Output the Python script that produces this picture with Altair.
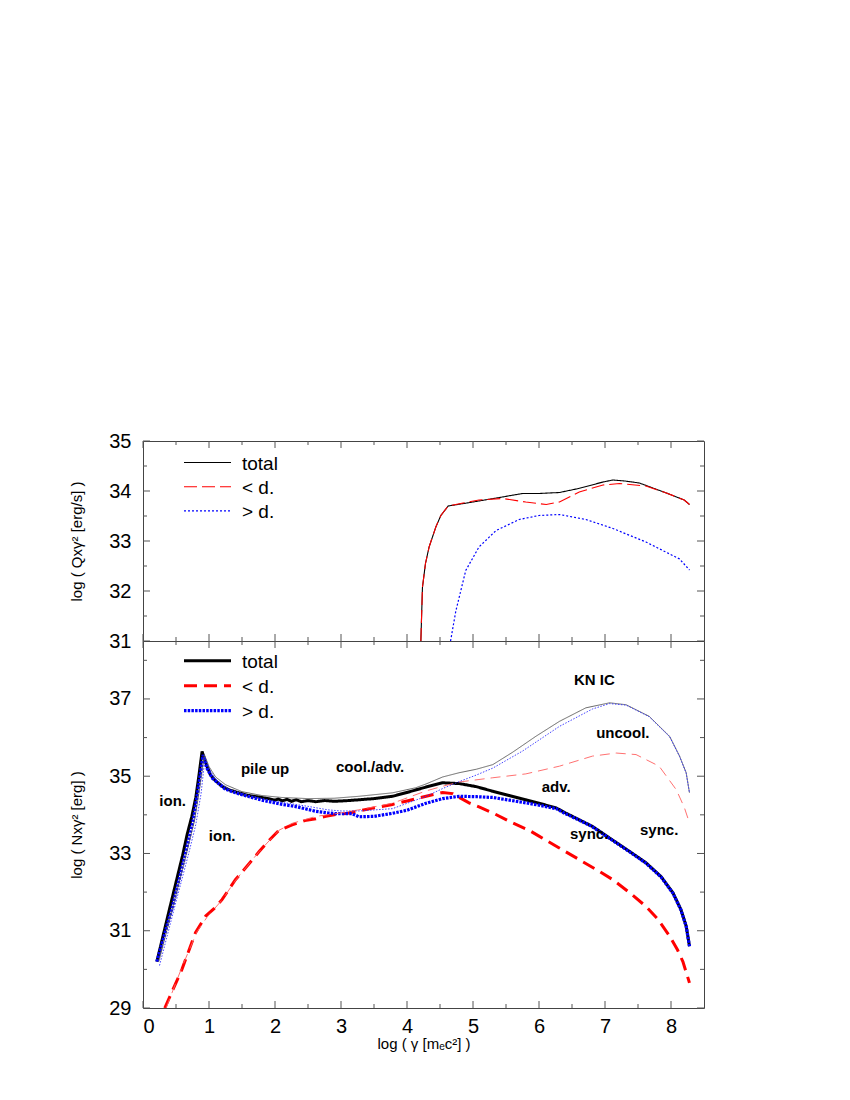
import altair as alt
import pandas as pd

# ---------------- upper panel: log(Q x gamma^2) ----------------
q_total_x = [4.21, 4.234, 4.28, 4.335, 4.437, 4.513, 4.624, 5.0, 5.4, 5.75, 6.0, 6.31, 6.6, 6.97, 7.12, 7.3, 7.52, 7.93, 8.2, 8.28]
q_total_y = [31.0, 32.07, 32.55, 32.88, 33.28, 33.51, 33.70, 33.78, 33.87, 33.95, 33.95, 33.97, 34.05, 34.18, 34.22, 34.20, 34.16, 33.96, 33.82, 33.73]
q_low_x = [4.21, 4.234, 4.28, 4.335, 4.437, 4.513, 4.624, 4.85, 5.09, 5.45, 5.80, 6.11, 6.31, 6.61, 6.97, 7.22, 7.62, 7.93, 8.2, 8.28]
q_low_y = [31.0, 32.07, 32.55, 32.88, 33.28, 33.51, 33.70, 33.76, 33.82, 33.85, 33.78, 33.73, 33.78, 33.98, 34.12, 34.15, 34.10, 33.96, 33.82, 33.73]
q_high_x = [4.66, 4.74, 4.89, 5.09, 5.35, 5.70, 6.0, 6.31, 6.71, 7.12, 7.62, 8.13, 8.28]
q_high_y = [31.0, 31.6, 32.41, 32.88, 33.21, 33.43, 33.51, 33.53, 33.43, 33.25, 32.98, 32.64, 32.42]

# ---------------- lower panel: log(N x gamma^2) ----------------
n_total_x = [0.21, 0.40, 0.60, 0.67, 0.74, 0.80, 0.85, 0.895, 0.95, 1.02, 1.10, 1.20, 1.30, 1.45, 1.60, 1.76, 1.90, 2.00, 2.05, 2.11,
             2.18, 2.25, 2.32, 2.40, 2.50, 2.62, 2.75, 2.90, 3.12, 3.27, 3.50, 3.78, 4.00, 4.29, 4.54, 4.79, 5.05, 5.30, 5.55, 5.80,
             6.00, 6.26, 6.40, 6.60, 6.81, 7.00, 7.20, 7.40, 7.62, 7.85, 8.03, 8.15, 8.23, 8.28]
n_total_y = [30.20, 31.55, 32.95, 33.50, 33.96, 34.45, 35.05, 35.64, 35.35, 35.04, 34.88, 34.74, 34.65, 34.57, 34.50, 34.46, 34.42, 34.38, 34.41, 34.36,
             34.40, 34.35, 34.39, 34.34, 34.37, 34.34, 34.37, 34.35, 34.37, 34.39, 34.42, 34.48, 34.58, 34.72, 34.83, 34.81, 34.73, 34.61, 34.50, 34.39,
             34.30, 34.18, 34.05, 33.88, 33.70, 33.48, 33.25, 33.02, 32.76, 32.40, 31.98, 31.55, 31.12, 30.60]
n_low_x = [0.33, 0.59, 0.795, 0.95, 1.08, 1.20, 1.40, 1.60, 1.76, 1.90, 2.06, 2.26, 2.45, 2.62, 2.77, 2.92, 3.10, 3.27, 3.50, 3.78,
           4.00, 4.29, 4.54, 4.69, 4.94, 5.10, 5.30, 5.60, 5.85, 6.00, 6.30, 6.61, 6.90, 7.12, 7.40, 7.62, 7.80, 7.98, 8.10, 8.18, 8.28]
n_low_y = [29.00, 30.00, 30.95, 31.38, 31.58, 31.81, 32.32, 32.72, 33.05, 33.32, 33.60, 33.74, 33.85, 33.90, 33.96, 34.01, 34.04, 34.10, 34.18, 34.27,
           34.36, 34.48, 34.58, 34.55, 34.31, 34.20, 34.05, 33.79, 33.60, 33.45, 33.15, 32.84, 32.55, 32.32, 31.95, 31.63, 31.30, 30.86, 30.50, 30.20, 29.65]
n_high_x = [0.21, 0.45, 0.65, 0.76, 0.83, 0.91, 0.97, 1.05, 1.24, 1.40, 1.59, 1.80, 2.11, 2.30, 2.45, 2.62, 2.80, 2.92, 3.17, 3.22,
            3.27, 3.50, 3.78, 4.00, 4.29, 4.54, 4.79, 5.05, 5.30, 5.55, 5.80, 6.00, 6.26, 6.40, 6.60, 6.81, 7.00, 7.20, 7.40, 7.62,
            7.85, 8.03, 8.15, 8.23, 8.28]
n_high_y = [30.20, 31.65, 33.05, 33.85, 34.60, 35.55, 35.20, 34.95, 34.67, 34.57, 34.48, 34.38, 34.27, 34.22, 34.16, 34.09, 34.05, 34.03, 34.03, 33.99,
            33.95, 33.96, 34.04, 34.12, 34.30, 34.42, 34.48, 34.47, 34.45, 34.38, 34.31, 34.25, 34.16, 34.03, 33.87, 33.69, 33.47, 33.24, 33.01, 32.75,
            32.39, 31.97, 31.54, 31.11, 30.60]
# thin (uncooled) curves
n_total_u_x = [0.24, 0.45, 0.65, 0.78, 0.86, 0.93, 1.00, 1.10, 1.25, 1.50, 1.80, 2.10, 2.50, 2.90, 3.27, 3.78, 4.13, 4.29, 4.54, 4.79,
               5.05, 5.30, 5.60, 5.95, 6.31, 6.71, 7.07, 7.32, 7.67, 7.98, 8.13, 8.23, 8.28]
n_total_u_y = [30.20, 31.60, 32.95, 33.85, 34.70, 35.56, 35.25, 34.98, 34.78, 34.60, 34.50, 34.45, 34.42, 34.43, 34.48, 34.57, 34.70, 34.80, 34.98, 35.09,
               35.18, 35.30, 35.62, 36.03, 36.42, 36.77, 36.90, 36.85, 36.55, 36.03, 35.52, 35.09, 34.57]
n_low_u_x = [0.35, 0.60, 0.82, 0.97, 1.20, 1.40, 1.76, 2.06, 2.26, 2.62, 3.00, 3.27, 3.78, 4.29, 4.54, 4.79, 5.30, 5.80, 6.31, 6.81,
             7.17, 7.47, 7.82, 8.08, 8.20, 8.28]
n_low_u_y = [29.00, 30.10, 30.98, 31.35, 31.80, 32.30, 33.05, 33.60, 33.78, 33.96, 34.05, 34.13, 34.30, 34.62, 34.74, 34.85, 34.96, 35.06, 35.26, 35.52,
             35.60, 35.56, 35.26, 34.65, 34.20, 33.79]
n_high_u_x = [0.25, 0.50, 0.70, 0.80, 0.88, 0.94, 1.00, 1.10, 1.30, 1.60, 2.00, 2.50, 2.80, 3.00, 3.27, 3.78, 4.29, 4.54, 4.79, 5.05,
              5.30, 5.75, 6.31, 6.81, 7.07, 7.32, 7.67, 7.98, 8.13, 8.23, 8.28]
n_high_u_y = [30.10, 31.75, 33.05, 33.75, 34.55, 35.50, 35.20, 34.92, 34.66, 34.50, 34.35, 34.22, 34.13, 34.10, 34.10, 34.16, 34.48, 34.68, 34.86, 35.03,
              35.21, 35.65, 36.29, 36.74, 36.88, 36.84, 36.54, 36.02, 35.51, 35.08, 34.57]

# annotations (lower panel)
ann_text = ["ion.", "ion.", "pile up", "cool./adv.", "KN IC", "uncool.", "adv.", "sync.", "sync."]
ann_x = [0.45, 1.20, 1.85, 3.44, 6.84, 7.27, 6.26, 6.76, 7.82]
ann_y = [34.37, 33.46, 35.18, 35.25, 37.50, 36.13, 34.73, 33.50, 33.60]

legend_labels = ["total", "< d.", "> d."]

# axis ticks / labels
x_major = [0, 1, 2, 3, 4, 5, 6, 7, 8]
x_minor = [0.5, 1.5, 2.5, 3.5, 4.5, 5.5, 6.5, 7.5]
top_y_major = [31, 32, 33, 34, 35]
top_y_minor = [31.5, 32.5, 33.5, 34.5]
bot_y_major = [29, 31, 33, 35, 37]
bot_y_minor = [30, 32, 34, 36, 38]

X_DOM = [0, 8.5]
TOP_DOM = [31, 35]
BOT_DOM = [29, 38.5]
W, H1, H2 = 561, 200, 367
FONT = "Liberation Sans"
TICK_COLOR = "#555555"

BLACK, RED, BLUE = "#000000", "#ff0000", "#0000ff"
SOLID = [1, 0]


def xs():
    return alt.Scale(domain=X_DOM, nice=False, zero=False)


def ys(dom):
    return alt.Scale(domain=dom, nice=False, zero=False)


def tick_layers(dom, H, y_major, y_minor):
    out = []
    for xv, yv, size in [(x_major, y_major, 7), (x_minor, y_minor, 4)]:
        dx = pd.DataFrame({"tx": xv})
        dy = pd.DataFrame({"ty": yv})
        rule = dict(color=TICK_COLOR, strokeWidth=1)
        xenc = alt.X("tx:Q", scale=xs(), axis=None)
        yenc = alt.Y("ty:Q", scale=ys(dom), axis=None)
        out.append(alt.Chart(dx).mark_rule(**rule).encode(x=xenc, y=alt.value(H), y2=alt.value(H - size)))
        out.append(alt.Chart(dx).mark_rule(**rule).encode(x=xenc, y=alt.value(0), y2=alt.value(size)))
        out.append(alt.Chart(dy).mark_rule(**rule).encode(y=yenc, x=alt.value(0), x2=alt.value(size)))
        out.append(alt.Chart(dy).mark_rule(**rule).encode(y=yenc, x=alt.value(W), x2=alt.value(W - size)))
    return out


def legend_layers(styles, y0, step):
    out = []
    for i, (lab, (color, dash, width)) in enumerate(zip(legend_labels, styles)):
        d = pd.DataFrame({"label": [lab]})
        yy = y0 + step * i
        out.append(alt.Chart(d).mark_rule(color=color, strokeDash=dash, strokeWidth=width).encode(
            x=alt.value(41), x2=alt.value(88), y=alt.value(yy)))
        out.append(alt.Chart(d).mark_text(align="left", baseline="middle", font=FONT, fontSize=19, color="black").encode(
            x=alt.value(99), y=alt.value(yy + 1), text="label:N"))
    return out


def panel(series, dom, H, y_major, y_minor, ytitle, show_x, leg_styles, leg_y0, leg_step, annotations=None):
    layers = []
    for i, (sx, sy, color, dash, width) in enumerate(series):
        df = pd.DataFrame({"x": sx, "y": sy})
        if i == 0:
            if show_x:
                xaxis = alt.Axis(values=x_major, ticks=False, domain=False, grid=False, labelFont=FONT,
                                 labelFontSize=20, labelColor="black", labelPadding=8,
                                 title="log ( γ [mₑc²] )", titleFont=FONT, titleFontSize=15,
                                 titleFontWeight="normal", titleColor="black", titlePadding=0)
            else:
                xaxis = None
            yaxis = alt.Axis(values=y_major, ticks=False, domain=False, grid=False, labelFont=FONT,
                             labelFontSize=20, labelColor="black", labelPadding=12,
                             title=ytitle, titleFont=FONT, titleFontSize=15, titleFontWeight="normal",
                             titleColor="black", titlePadding=24)
        else:
            xaxis = None
            yaxis = None
        layers.append(alt.Chart(df).mark_line(clip=True, color=color, strokeWidth=width, strokeDash=dash).encode(
            x=alt.X("x:Q", scale=xs(), axis=xaxis),
            y=alt.Y("y:Q", scale=ys(dom), axis=yaxis),
            order="x:Q",
        ))
    if annotations is not None:
        adf = pd.DataFrame({"x": ann_x, "y": ann_y, "t": ann_text})
        layers.append(alt.Chart(adf).mark_text(font=FONT, fontSize=15, fontWeight="bold", color="black").encode(
            x=alt.X("x:Q", scale=xs(), axis=None),
            y=alt.Y("y:Q", scale=ys(dom), axis=None),
            text="t:N",
        ))
    layers += tick_layers(dom, H, y_major, y_minor)
    layers += legend_layers(leg_styles, leg_y0, leg_step)
    return alt.layer(*layers).resolve_axis(x="independent", y="independent").properties(width=W, height=H)


top_series = [
    (q_total_x, q_total_y, BLACK, SOLID, 1.1),
    (q_low_x, q_low_y, RED, [13, 5], 1.1),
    (q_high_x, q_high_y, BLUE, [2, 2], 1.2),
]
top_leg = [(BLACK, SOLID, 1.1), (RED, [13, 5], 1.1), (BLUE, [2, 2], 1.2)]

bot_series = [
    (n_total_x, n_total_y, BLACK, SOLID, 3),
    (n_low_x, n_low_y, RED, [13, 7], 3),
    (n_high_x, n_high_y, BLUE, [2.5, 1.2], 3.2),
    (n_total_u_x, n_total_u_y, "#555555", SOLID, 0.9),
    (n_low_u_x, n_low_u_y, "#ff6060", [10, 6], 0.9),
    (n_high_u_x, n_high_u_y, "#3030ff", [1.5, 1.5], 0.9),
]
bot_leg = [(BLACK, SOLID, 3), (RED, [13, 7], 3), (BLUE, [2.5, 1.2], 3.2)]

top = panel(top_series, TOP_DOM, H1, top_y_major, top_y_minor, "log ( Qxγ² [erg/s] )", False,
            top_leg, 21.5, 24.2)
bottom = panel(bot_series, BOT_DOM, H2, bot_y_major, bot_y_minor, "log ( Nxγ² [erg] )", True,
               bot_leg, 19.7, 25.0, annotations=True)

chart = alt.vconcat(top, bottom, spacing=0, bounds="flush").properties(
    padding={"left": 61, "top": 422, "right": 5, "bottom": 5},
    background="white",
).configure_view(stroke="#444444", strokeWidth=1)

chart.save("out.html", embed_options={"renderer": "svg", "actions": False})
